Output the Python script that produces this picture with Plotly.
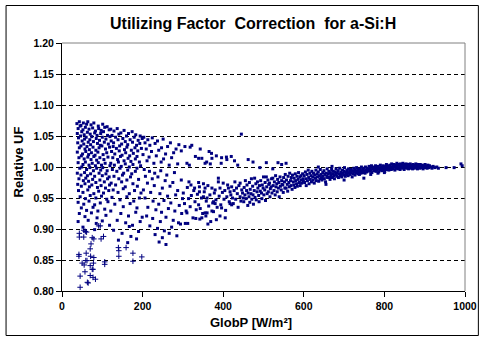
import plotly.graph_objects as go

# ---- data: (GlobP [W/m2], Relative UF) ----
low_irr_a = [
    (37,1.070),(43,1.073),(47,1.067),(53,1.071),(61,1.069),(64,1.073),(72,1.068),(79,1.071),(90,1.066),(101,1.069),(112,1.065),
    (40,1.062),(45,1.066),(52,1.060),(58,1.064),(67,1.061),(76,1.063),(83,1.058),(91,1.062),(97,1.059),(106,1.064),(117,1.060),
    (38,1.054),(49,1.057),(55,1.052),(63,1.056),(70,1.053),(81,1.055),(87,1.051),(96,1.054),(103,1.057),(113,1.051),
    (41,1.047),(46,1.050),(56,1.045),(60,1.048),(69,1.044),(74,1.049),(85,1.046),(93,1.043),(100,1.048),(109,1.045),(119,1.049),
    (39,1.039),(50,1.042),(54,1.037),(65,1.040),(71,1.036),(78,1.041),(88,1.038),(95,1.035),(105,1.040),(115,1.037),
    (43,1.031),(47,1.034),(57,1.029),(62,1.033),(68,1.028),(77,1.032),(84,1.027),(92,1.031),(99,1.034),(108,1.029),(118,1.032),
    (38,1.024),(51,1.021),(59,1.025),(66,1.020),(73,1.023),(82,1.019),(89,1.024),(102,1.020),(111,1.023),
    (42,1.015),(48,1.018),(55,1.013),(64,1.016),(72,1.012),(79,1.017),(86,1.011),(94,1.015),(104,1.012),(114,1.016),
    (40,1.007),(52,1.004),(58,1.008),(67,1.003),(75,1.006),(83,1.002),(90,1.007),(98,1.003),(107,1.006),(119,1.002),
    (44,0.998),(49,1.000),(61,0.996),(69,0.999),(78,0.994),(86,0.998),(96,0.995),(101,0.999),(112,0.994),
    (38,0.990),(47,0.987),(56,0.991),(63,0.986),(71,0.989),(81,0.985),(92,0.990),(100,0.986),(109,0.989),(117,0.984),
    (42,0.981),(53,0.978),(59,0.982),(66,0.977),(76,0.980),(84,0.975),(94,0.979),(105,0.976),(113,0.981),
    (39,0.972),(48,0.969),(57,0.973),(68,0.968),(74,0.971),(88,0.967),(97,0.970),(108,0.966),(118,0.971),
    (41,0.962),(52,0.959),(64,0.963),(79,0.957),(91,0.961),(103,0.958),(116,0.962),
    (45,0.952),(58,0.949),(70,0.954),(84,0.950),(98,0.953),(111,0.948),
    (40,0.943),(54,0.940),(67,0.945),(81,0.939),(95,0.942),(114,0.944),
    (48,0.934),(61,0.930),(77,0.935),(89,0.929),(106,0.932),
    (43,0.925),(57,0.920),(73,0.926),(87,0.918),(109,0.922),
    (40,0.912),(65,0.914),(85,0.909),(100,0.913),
    (52,0.903),(81,0.899),(118,0.906),
]

low_irr_b = [
    (121,1.061),(129,1.058),(137,1.062),(146,1.055),(154,1.059),(165,1.054),(174,1.057),(183,1.052),(194,1.050),
    (124,1.051),(133,1.048),(141,1.053),(151,1.046),(160,1.050),(169,1.044),(179,1.048),(189,1.043),(199,1.046),
    (122,1.042),(128,1.039),(139,1.044),(148,1.037),(157,1.041),(163,1.036),(175,1.040),(185,1.035),(193,1.038),
    (127,1.033),(135,1.030),(143,1.034),(155,1.028),(161,1.032),(172,1.027),(181,1.031),(188,1.026),(197,1.030),
    (123,1.025),(131,1.021),(142,1.026),(149,1.019),(158,1.023),(168,1.018),(177,1.022),(186,1.017),
    (126,1.015),(138,1.012),(145,1.017),(154,1.010),(164,1.014),(171,1.009),(182,1.013),(192,1.008),
    (121,1.006),(130,1.003),(140,1.008),(147,1.001),(157,1.005),(167,1.000),(176,1.004),(186,0.998),(195,1.002),
    (125,0.996),(136,0.993),(144,0.998),(153,0.990),(163,0.995),(173,0.989),(182,0.993),
    (129,0.985),(141,0.981),(150,0.987),(161,0.979),(170,0.984),(190,0.980),
    (122,0.974),(133,0.971),(148,0.976),(157,0.968),(176,0.973),(187,0.969),
    (127,0.963),(139,0.959),(152,0.965),(167,0.957),(180,0.962),(196,0.958),
    (124,0.951),(144,0.947),(161,0.952),(178,0.945),(192,0.950),
    (131,0.940),(152,0.936),(169,0.941),(186,0.934),
    (121,0.929),(146,0.925),(165,0.921),(183,0.927),(199,0.919),
    (137,0.914),(158,0.910),(175,0.906),(194,0.912),
    (128,0.898),(149,0.893),(167,0.904),(171,0.888),(190,0.896),
    (140,0.882),(163,0.878),(185,0.884),
]

mid_irr_c = [
    (203,1.048),(213,1.044),(224,1.047),(237,1.042),(251,1.045),(269,1.039),(290,1.036),
    (206,1.039),(218,1.035),(231,1.038),(247,1.031),(262,1.033),(283,1.029),
    (209,1.029),(222,1.025),(240,1.027),(257,1.021),(277,1.023),(296,1.026),
    (201,1.020),(216,1.016),(234,1.018),(252,1.013),(272,1.015),
    (211,1.010),(228,1.006),(246,1.008),(266,1.003),(287,1.005),
    (204,0.996),(217,0.993),(230,0.990),(245,0.994),(260,0.987),(279,0.991),
    (207,0.985),(224,0.981),(238,0.984),(256,0.978),(275,0.975),(296,0.979),
    (212,0.974),(229,0.970),(249,0.966),(268,0.969),(287,0.962),
    (202,0.963),(220,0.959),(243,0.957),(262,0.953),(282,0.955),(299,0.949),
    (206,0.950),(226,0.945),(240,0.940),(253,0.946),(270,0.942),(291,0.938),
    (213,0.935),(233,0.931),(247,0.927),(264,0.933),(280,0.929),(297,0.925),
    (210,0.921),(225,0.917),(244,0.912),(258,0.919),(276,0.914),(289,0.910),
    (218,0.905),(237,0.901),(254,0.897),(272,0.903),(294,0.908),
    (231,0.891),(249,0.886),(266,0.893),(285,0.889),
    (241,0.879),(258,0.875),
]

mid_irr_d = [
    (305,1.033),(318,1.032),(322,1.035),(343,1.029),(365,1.025),(371,1.022),(383,1.018),(408,1.016),(420,1.017),
    (331,1.017),(339,1.014),(347,1.014),(310,1.006),(316,1.003),(355,1.006),(359,1.008),(368,1.005),(395,1.006),
    (436,1.003),(372,1.014),(409,1.012),(396,1.015),(445,1.053),(428,1.010),
    (301,0.958),(304,0.941),(308,0.929),(311,0.967),(314,0.949),(318,0.936),(321,0.954),(325,0.918),(327,0.962),
    (330,0.944),(333,0.931),(336,0.956),(339,0.939),(341,0.968),(343,0.933),(346,0.950),(349,0.925),(351,0.952),
    (353,0.960),(355,0.926),(358,0.945),(360,0.950),(362,0.970),(364,0.937),(367,0.955),(369,0.912),(372,0.966),
    (374,0.942),(376,0.928),(378,0.958),(380,0.963),(382,0.947),(385,0.935),(388,0.982),(388,0.976),(390,0.953),
    (392,0.966),(394,0.939),(396,0.934),(398,0.959),(400,0.974),(402,0.948),(404,0.962),(406,0.930),(409,0.952),
    (411,0.971),(413,0.966),(415,0.944),(417,0.960),(417,0.941),(419,0.955),(421,0.968),(421,0.939),(423,0.950),
    (425,0.941),(427,0.962),(429,0.976),(431,0.948),(433,0.966),(435,0.957),(437,0.935),(439,0.970),(442,0.974),
    (442,0.952),(444,0.945),(446,0.963),(448,0.958),(450,0.950),(347,0.918),(357,0.921),(362,0.908),(383,0.915),
    (392,0.921),(405,0.918),(376,0.944),(380,0.941),(372,0.929),(339,0.975),(351,0.973),(355,0.966),(341,0.960),
    (315,0.976),(320,0.971),(329,0.966),(310,0.926),(306,0.909),(312,0.909),(332,0.917),(342,0.916),(360,0.926),
]

high_irr_e = [
    (451,0.944),(452,0.967),(454,0.955),(455,0.978),(457,0.949),(458,0.962),(459,0.971),(461,0.938),(462,0.958),(464,0.952),(465,0.975),
    (466,0.943),(467,0.964),(469,0.957),(470,0.981),(471,0.948),(473,0.969),(474,0.955),(475,0.940),(477,0.962),(478,0.982),(479,0.951),
    (481,0.973),(482,0.947),(484,0.960),(485,0.976),(486,0.966),(488,0.954),(489,0.944),(490,0.970),(492,0.961),(493,0.978),(495,0.958),
    (496,0.949),(497,0.971),(499,0.966),(500,0.984),(501,0.955),(503,0.963),(504,0.975),(505,0.946),(507,0.984),(508,0.968),(509,0.957),
    (511,0.979),(512,0.960),(513,0.972),(515,0.974),(516,0.952),(517,0.965),(519,0.968),(520,0.981),(521,0.958),(523,0.982),(524,0.970),
    (526,0.962),(527,0.976),(529,0.955),(530,0.986),(531,0.968),(533,0.973),(534,0.960),(535,0.980),(537,0.966),(538,0.975),(539,0.952),
    (541,0.984),(542,0.969),(544,0.963),(545,0.978),(546,0.972),(548,0.971),(549,0.959),(550,0.983),(552,0.976),(553,0.966),(554,0.988),
    (556,0.966),(557,0.979),(559,0.972),(560,0.961),(561,0.985),(563,0.975),(564,0.968),(565,0.990),(567,0.978),(568,0.970),(569,0.983),
    (571,0.964),(572,0.987),(574,0.976),(575,0.971),(576,0.982),(578,0.967),(579,0.989),(580,0.978),(582,0.973),(583,0.985),(584,0.969),
    (586,0.980),(587,0.991),(589,0.975),(590,0.984),(591,0.970),(593,0.986),(594,0.979),(595,0.974),(597,0.989),(598,0.981),(599,0.977),
    (474,1.008),(507,1.007),(536,1.007),(545,1.004),(556,1.006),(462,1.012),(491,0.999),(523,0.997),
]

high_irr_f = [
    (601,0.986),(602,0.975),(604,0.992),(605,0.981),(606,0.970),(608,0.988),(609,0.978),(611,0.995),(612,0.983),(613,0.973),(615,0.990),
    (616,0.980),(618,0.986),(619,0.976),(620,0.993),(622,0.984),(623,0.979),(624,0.990),(626,0.974),(627,0.987),(629,0.982),(630,0.995),
    (631,0.978),(633,0.989),(634,0.984),(636,0.992),(637,0.977),(638,0.986),(640,0.981),(641,0.996),(643,0.988),(644,0.983),(645,0.979),
    (647,0.991),(648,0.985),(650,0.994),(651,0.981),(652,0.988),(654,0.976),(655,0.990),(657,0.985),(658,0.997),(659,0.983),(661,0.989),
    (662,0.993),(664,0.984),(665,0.980),(666,0.991),(668,0.987),(669,0.996),(671,0.983),(672,0.989),(673,0.993),(675,0.986),(676,0.981),
    (678,0.992),(679,0.988),(680,0.997),(682,0.985),(683,0.990),(685,0.994),(686,0.983),(687,0.989),(689,0.998),(690,0.986),(692,0.992),
    (693,0.988),(694,0.984),(696,0.995),(697,0.990),(699,0.987),(700,0.993),(701,0.999),(703,0.985),(704,0.991),(706,0.988),(707,0.995),
    (708,0.992),(710,0.986),(711,0.997),(713,0.990),(714,0.993),(715,0.988),(717,0.996),(718,0.991),(720,0.984),(721,0.994),(722,0.989),
    (724,0.998),(725,0.992),(727,0.987),(728,0.995),(729,0.991),(731,0.999),(732,0.993),(734,0.989),(735,0.996),(736,0.992),(738,0.988),
    (739,0.997),(741,0.994),(742,0.990),(743,1.000),(745,0.993),(746,0.996),(748,0.991),(749,0.998),(750,0.994),(752,0.990),(753,1.000),
    (755,0.995),(756,0.992),(757,0.998),(759,0.994),(655,0.972),(700,0.979),(749,0.982),(636,1.000),(670,1.001),
]

high_irr_g = [
    (761,0.996),(762,1.001),(764,0.993),(765,0.998),(767,0.995),(768,1.002),(769,0.991),(771,0.997),(772,1.000),(774,0.994),(775,0.999),
    (776,0.996),(778,1.002),(779,0.993),(780,0.998),(782,0.995),(783,1.001),(785,0.997),(786,0.992),(787,0.999),(789,0.995),(790,1.003),
    (791,0.997),(793,1.000),(794,0.994),(796,0.998),(797,1.002),(798,0.996),(800,0.999),(801,0.993),(803,1.001),(804,0.997),(805,1.004),
    (807,0.996),(808,0.999),(810,1.002),(811,0.995),(812,0.998),(814,1.003),(815,1.000),(817,0.996),(818,1.005),(819,0.999),(821,1.002),
    (822,0.997),(824,1.004),(825,1.000),(826,0.995),(828,1.003),(829,0.998),(831,1.006),(832,1.001),(833,0.997),(835,1.004),(836,0.999),
    (838,1.002),(839,0.996),(840,1.005),(842,1.000),(843,1.003),(845,0.998),(846,1.006),(847,1.001),(849,0.996),(850,1.004),(852,0.999),
    (853,1.002),(854,1.005),(856,0.998),(857,1.001),(859,1.004),(860,0.997),(861,1.002),(863,1.000),(864,1.005),(866,0.998),(867,1.003),
    (868,1.000),(870,0.997),(871,1.004),(873,1.001),(874,0.998),(875,1.003),(877,1.000),(878,1.005),(880,0.999),(881,1.002),(882,0.997),
    (884,1.004),(885,1.000),(887,1.002),(888,0.998),(889,1.004),(891,1.001),(892,0.999),(894,1.003),(895,1.000),(896,0.997),(898,1.002),
    (899,1.000),(901,1.004),(902,0.999),(903,1.002),(905,1.000),(906,0.998),(908,1.003),(909,1.001),(910,0.999),(912,1.002),(915,1.000),
    (918,0.998),(921,1.001),(925,0.999),(930,1.000),(934,0.998),(953,0.999),(973,0.999),(990,1.005),(993,1.002),
    (766,0.988),(784,0.990),(800,0.991),
]

plus_points = [
    (42,0.859),(42,0.856),(60,0.861),(50,0.845),(55,0.842),(59,0.849),(62,0.849),(71,0.856),(79,0.854),(78,0.845),
    (45,0.824),(57,0.831),(70,0.825),(77,0.822),(83,0.819),(63,0.814),(65,0.813),(45,0.806),(75,0.835),(106,0.847),
    (106,0.843),(141,0.856),(141,0.865),(176,0.861),(176,0.848),(198,0.855),(43,0.893),(43,0.887),(54,0.898),(54,0.887),
    (58,0.896),(61,0.895),(75,0.886),(79,0.884),(91,0.905),(95,0.905),(97,0.884),(103,0.888),(140,0.870),(159,0.870),
    (70,0.868),(72,0.876),(70,0.841),(77,0.835),
]

x_ticks = [0, 200, 400, 600, 800, 1000]
y_ticks = [0.80, 0.85, 0.90, 0.95, 1.00, 1.05, 1.10, 1.15, 1.20]

title_text = "Utilizing Factor\u00a0 Correction\u00a0 for a-Si:H"
x_title = "GlobP [W/m²]"
y_title = "Relative UF"

# ---- build ----
square_pts = low_irr_a + low_irr_b + mid_irr_c + mid_irr_d + high_irr_e + high_irr_f + high_irr_g
sq_x = [p[0] for p in square_pts]
sq_y = [p[1] for p in square_pts]
pl_x = [p[0] for p in plus_points]
pl_y = [p[1] for p in plus_points]

NAVY = "#000080"
FONT = "Arial, 'Liberation Sans', sans-serif"

fig = go.Figure()
fig.add_trace(go.Scatter(x=sq_x, y=sq_y, mode="markers",
                         marker=dict(symbol="square", size=3, color=NAVY, line=dict(width=0)),
                         showlegend=False, hoverinfo="skip"))
fig.add_trace(go.Scatter(x=pl_x, y=pl_y, mode="markers",
                         marker=dict(symbol="cross-thin", size=4, color=NAVY,
                                     line=dict(width=1, color=NAVY)),
                         showlegend=False, hoverinfo="skip"))

W, H = 489, 341
L, R, T, B = 62, 20, 43, 50
PW, PH = W - L - R, H - T - B

def px_x(px):
    return (px - L) / PW

def px_y(py):
    return (H - B - py) / PH

tick_font = dict(size=10.5, family=FONT, color="black", weight="bold")

fig.update_layout(
    width=W, height=H,
    margin=dict(l=L, r=R, t=T, b=B, pad=0),
    paper_bgcolor="white", plot_bgcolor="white",
    font=dict(family=FONT, color="black"),
    xaxis=dict(range=[0, 1000], tickvals=x_ticks, ticktext=[str(v) for v in x_ticks],
               showgrid=False, zeroline=False, showline=True, linecolor="black", linewidth=1,
               ticks="outside", ticklen=5, tickcolor="black", tickwidth=1,
               tickfont=tick_font),
    yaxis=dict(range=[0.80, 1.20], tickvals=y_ticks, ticktext=[f"{v:.2f}" for v in y_ticks],
               showgrid=True, gridcolor="black", gridwidth=1, griddash="4px,3px",
               zeroline=False, showline=True, linecolor="black", linewidth=1,
               ticks="outside", ticklen=5, tickcolor="black", tickwidth=1,
               tickfont=tick_font),
    shapes=[
        dict(type="line", xref="paper", yref="paper", x0=0, x1=1, y0=1, y1=1,
             line=dict(color="#808080", width=1), layer="above"),
        dict(type="line", xref="paper", yref="paper", x0=1, x1=1, y0=0, y1=1,
             line=dict(color="#808080", width=1), layer="above"),
        dict(type="rect", xref="paper", yref="paper",
             x0=px_x(5.5), x1=px_x(482.5), y0=px_y(335.5), y1=px_y(5.5),
             line=dict(color="black", width=1), fillcolor="rgba(0,0,0,0)", layer="above"),
    ],
    annotations=[
        dict(text=title_text, xref="paper", yref="paper", x=px_x(255), y=px_y(23.5),
             xanchor="center", yanchor="middle", showarrow=False,
             font=dict(size=16, family=FONT, color="black", weight="bold")),
        dict(text=x_title, xref="paper", yref="paper", x=px_x(253), y=px_y(322),
             xanchor="center", yanchor="middle", showarrow=False,
             font=dict(size=13, family=FONT, color="black", weight="bold")),
        dict(text=y_title, xref="paper", yref="paper", x=px_x(18), y=px_y(162),
             xanchor="center", yanchor="middle", showarrow=False, textangle=-90,
             font=dict(size=13, family=FONT, color="black", weight="bold")),
    ],
)

fig.write_html("out.html", config={"displayModeBar": False})
